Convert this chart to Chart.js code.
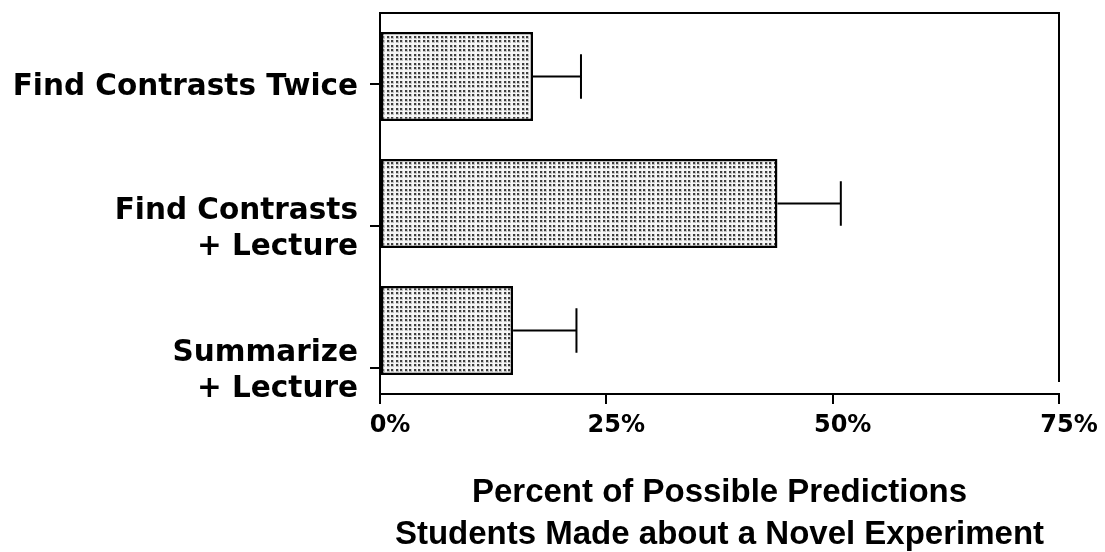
<!DOCTYPE html>
<html>
<head>
<meta charset="utf-8">
<title>Percent of Possible Predictions</title>
<script src="https://cdn.jsdelivr.net/npm/chart.js@4/dist/chart.umd.min.js"></script>
<style>
  html, body { margin: 0; padding: 0; background: #ffffff; }
  canvas { display: block; }
</style>
</head>
<body>
<canvas id="chart" width="1105" height="552"></canvas>
<script>
// Conditions (top to bottom), mean percent of predictions, and error-bar size
const categories = ['Find Contrasts Twice', 'Find Contrasts + Lecture', 'Summarize + Lecture'];
const categoryLabels = [['Find Contrasts Twice'], ['Find Contrasts', '+ Lecture'], ['Summarize', '+ Lecture']];
const meanPercent = [16.9, 43.9, 14.7];
const errorPercent = [5.3, 7.0, 7.0];
const xTicks = [0, 25, 50, 75];
const xTitle = ['Percent of Possible Predictions', 'Students Made about a Novel Experiment'];

const canvas = document.getElementById('chart');
const ctx = canvas.getContext('2d');

// Stippled fill for the bars: dark dots with a soft grey halo on white
function stipple() {
  const tile = document.createElement('canvas');
  tile.width = 9; tile.height = 9;
  const t = tile.getContext('2d');
  t.fillStyle = '#f6f6f6';
  t.fillRect(0, 0, 9, 9);
  const spots = [0, 4];
  t.fillStyle = '#c4c4c4';
  spots.forEach(px => spots.forEach(py => t.fillRect(px, py, 3, 3)));
  t.fillStyle = '#3e3e3e';
  spots.forEach(px => spots.forEach(py => t.fillRect(px, py, 2, 2)));
  return ctx.createPattern(tile, 'repeat');
}

// One-sided error bars drawn from the end of each bar
const errorBars = {
  id: 'errorBars',
  afterDatasetsDraw(chart) {
    const c = chart.ctx;
    const xs = chart.scales.x;
    const meta = chart.getDatasetMeta(0);
    c.save();
    c.strokeStyle = '#000';
    c.lineWidth = 2;
    meta.data.forEach((bar, i) => {
      const x0 = xs.getPixelForValue(meanPercent[i]);
      const x1 = xs.getPixelForValue(meanPercent[i] + errorPercent[i]);
      const cap = bar.height / 4;
      c.beginPath();
      c.moveTo(x0, bar.y);
      c.lineTo(x1, bar.y);
      c.moveTo(x1, bar.y - cap);
      c.lineTo(x1, bar.y + cap);
      c.stroke();
    });
    c.restore();
  }
};

// Top and right edges of the plot frame
const frame = {
  id: 'frame',
  afterDraw(chart) {
    const a = chart.chartArea;
    const c = chart.ctx;
    c.save();
    c.strokeStyle = '#000';
    c.lineWidth = 2;
    c.beginPath();
    c.moveTo(a.left - 1, a.top);
    c.lineTo(a.right, a.top);
    c.lineTo(a.right, a.bottom - 12);
    c.stroke();
    c.restore();
  }
};

const labelFont = { family: 'DejaVu Sans', size: 29.5, weight: 'bold', lineHeight: 1.2 };

new Chart(ctx, {
  type: 'bar',
  data: {
    labels: categories,
    datasets: [{
      data: meanPercent,
      backgroundColor: stipple(),
      borderColor: '#000',
      borderWidth: 2.5,
      borderSkipped: false,
      barPercentage: 0.70,
      categoryPercentage: 1.0
    }]
  },
  options: {
    indexAxis: 'y',
    responsive: false,
    animation: false,
    events: [],
    layout: { padding: { top: 13, right: 46, bottom: 0, left: 0 } },
    plugins: {
      legend: { display: false },
      tooltip: { enabled: false }
    },
    scales: {
      x: {
        type: 'linear',
        position: 'bottom',
        min: 0,
        max: 75,
        afterBuildTicks(scale) {
          scale.ticks = xTicks.map(v => ({ value: v }));
        },
        afterFit(scale) { scale.height = 158; },
        grid: { drawOnChartArea: false, drawTicks: true, tickLength: 10, color: '#000', lineWidth: 2 },
        border: { display: true, color: '#000', width: 2 },
        ticks: {
          color: '#000',
          font: { family: 'DejaVu Sans', size: 24, weight: 'bold' },
          padding: 7,
          labelOffset: 10,
          maxRotation: 0,
          callback: v => v + '%'
        },
        title: {
          display: true,
          text: xTitle,
          color: '#000',
          font: { family: 'Liberation Sans', size: 33, weight: 'bold', lineHeight: 1.27 },
          padding: { top: 0, bottom: -4 }
        }
      },
      y: {
        type: 'category',
        display: false,
        offset: true
      },
      y2: {
        type: 'linear',
        position: 'left',
        reverse: true,
        offset: false,
        min: -0.5,
        max: 2.18,
        afterBuildTicks(scale) {
          scale.ticks = categoryLabels.map((_, i) => ({ value: i }));
        },
        afterFit(scale) {
          scale.width = 380;
          scale.paddingTop = 0;
          scale.paddingBottom = 0;
        },
        grid: { offset: false, drawOnChartArea: false, drawTicks: true, tickLength: 10, color: '#000', lineWidth: 2 },
        border: { display: true, color: '#000', width: 2 },
        ticks: {
          color: '#000',
          font: labelFont,
          padding: 12,
          autoSkip: false,
          labelOffset: 3,
          callback: v => categoryLabels[v]
        }
      }
    }
  },
  plugins: [errorBars, frame]
});
</script>
</body>
</html>
